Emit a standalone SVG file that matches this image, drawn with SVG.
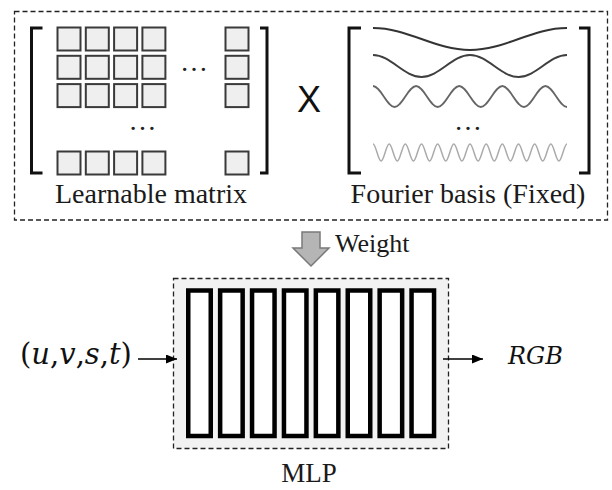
<svg xmlns="http://www.w3.org/2000/svg" width="612" height="490" viewBox="0 0 612 490">
<style>
  .dash { fill: none; stroke: #222; stroke-width: 1.3; stroke-dasharray: 5 3; }
  .cell { fill: #efefef; stroke: #3a3a3a; stroke-width: 2; }
  .brk { fill: none; stroke: #111; stroke-width: 3; }
  .lbl { font-family: "Liberation Serif", "Times New Roman", serif; font-size: 28px; fill: #1a1a1a; }
  .dots { font-family: "Liberation Serif", "Times New Roman", serif; font-size: 28px; fill: #222; }
  .math { font-family: "DejaVu Serif", "Liberation Serif", serif; font-size: 29px; fill: #111; }
  .bar { fill: #fff; stroke: #000; stroke-width: 4.5; }
  .wire { stroke: #000; stroke-width: 1.5; fill: none; }
  .wave { fill: none; }
</style>
<defs>
  <marker id="ah" markerUnits="userSpaceOnUse" markerWidth="11" markerHeight="9" refX="11" refY="4.5" orient="auto">
    <path d="M0,0 L11,4.5 L0,9 Z" fill="#000"/>
  </marker>
</defs>

<g id="basis-panel">
  <rect class="dash" x="14.5" y="11.5" width="593" height="208.5"/>
</g>

<g id="learnable-matrix">
  <path class="brk" d="M42.5,28 H31.5 V173 H42.5"/>
  <path class="brk" d="M260,28 H267 V173 H260"/>
  <rect class="cell" x="57.5" y="27.5" width="23" height="23"/>
  <rect class="cell" x="85.8" y="27.5" width="23" height="23"/>
  <rect class="cell" x="114.1" y="27.5" width="23" height="23"/>
  <rect class="cell" x="142.4" y="27.5" width="23" height="23"/>
  <rect class="cell" x="225.5" y="27.5" width="23" height="23"/>
  <rect class="cell" x="57.5" y="55.8" width="23" height="23"/>
  <rect class="cell" x="85.8" y="55.8" width="23" height="23"/>
  <rect class="cell" x="114.1" y="55.8" width="23" height="23"/>
  <rect class="cell" x="142.4" y="55.8" width="23" height="23"/>
  <rect class="cell" x="225.5" y="55.8" width="23" height="23"/>
  <rect class="cell" x="57.5" y="84.1" width="23" height="23"/>
  <rect class="cell" x="85.8" y="84.1" width="23" height="23"/>
  <rect class="cell" x="114.1" y="84.1" width="23" height="23"/>
  <rect class="cell" x="142.4" y="84.1" width="23" height="23"/>
  <rect class="cell" x="225.5" y="84.1" width="23" height="23"/>
  <rect class="cell" x="57.5" y="151.5" width="23" height="23"/>
  <rect class="cell" x="85.8" y="151.5" width="23" height="23"/>
  <rect class="cell" x="114.1" y="151.5" width="23" height="23"/>
  <rect class="cell" x="142.4" y="151.5" width="23" height="23"/>
  <rect class="cell" x="225.5" y="151.5" width="23" height="23"/>
  <text class="dots" x="194" y="71" text-anchor="middle">…</text>
  <text class="dots" x="142.5" y="130" text-anchor="middle">…</text>
  <text class="lbl" x="151" y="203" text-anchor="middle">Learnable matrix</text>
</g>

<g id="times">
  <text x="309" y="112" text-anchor="middle" font-family="Liberation Sans, Arial, sans-serif" font-size="36" fill="#111">X</text>
</g>

<g id="fourier-basis">
  <path class="brk" d="M361,28 H349 V173 H361"/>
  <path class="brk" d="M579,28 H589 V173 H579"/>
  <path class="wave" stroke="#333" stroke-width="2" d="M373,28 C408.3,28 434.7,50 470,50 S531.7,28 567,28"/>
  <path class="wave" stroke="#3f3f3f" stroke-width="2" d="M373,55 C390.65,55 403.85,77 421.5,77 S452.35,55 470,55 S500.85,77 518.5,77 S549.35,55 567,55"/>
  <path class="wave" stroke="#666" stroke-width="1.8" d="M373,86 C380.85,86 386.71,107 394.56,107 S408.26,86 416.11,86 S429.82,107 437.67,107 S451.37,86 459.22,86 S472.93,107 480.78,107 S494.48,86 502.33,86 S516.04,107 523.89,107 S537.59,86 545.44,86 S559.15,107 567,107"/>
  <path class="wave" stroke="#aaa" stroke-width="1.5" d="M373,144 C375.94,144 378.14,161 381.08,161 S386.23,144 389.17,144 S394.31,161 397.25,161 S402.39,144 405.33,144 S410.48,161 413.42,161 S418.56,144 421.5,144 S426.64,161 429.58,161 S434.73,144 437.67,144 S442.81,161 445.75,161 S450.89,144 453.83,144 S458.98,161 461.92,161 S467.06,144 470,144 S475.14,161 478.08,161 S483.23,144 486.17,144 S491.31,161 494.25,161 S499.39,144 502.33,144 S507.48,161 510.42,161 S515.56,144 518.5,144 S523.64,161 526.58,161 S531.73,144 534.67,144 S539.81,161 542.75,161 S547.89,144 550.83,144 S555.98,161 558.92,161 S564.06,144 567,144"/>
  <text class="dots" x="468" y="130" text-anchor="middle">…</text>
  <text class="lbl" x="468" y="203" text-anchor="middle">Fourier basis (Fixed)</text>
</g>

<g id="mlp">
  <rect x="173.5" y="278.5" width="275" height="170" fill="#f2f2f2" stroke="#222" stroke-width="1.3" stroke-dasharray="5 3"/>
  <rect class="bar" x="188.25" y="290.5" width="22.5" height="145.5"/>
  <rect class="bar" x="220.15" y="290.5" width="22.5" height="145.5"/>
  <rect class="bar" x="252.05" y="290.5" width="22.5" height="145.5"/>
  <rect class="bar" x="283.95" y="290.5" width="22.5" height="145.5"/>
  <rect class="bar" x="315.85" y="290.5" width="22.5" height="145.5"/>
  <rect class="bar" x="347.75" y="290.5" width="22.5" height="145.5"/>
  <rect class="bar" x="379.65" y="290.5" width="22.5" height="145.5"/>
  <rect class="bar" x="411.55" y="290.5" width="22.5" height="145.5"/>
  <text class="lbl" x="309" y="482" text-anchor="middle" style="font-size:27px">MLP</text>
</g>

<g id="input">
  <text class="math" x="20" y="364">(<tspan font-style="italic">u</tspan>,<tspan font-style="italic">v</tspan>,<tspan font-style="italic">s</tspan>,<tspan font-style="italic">t</tspan>)</text>
</g>

<g id="output">
  <text class="math" x="508" y="364" font-style="italic" style="font-size:24px">RGB</text>
</g>

<g id="weight-label">
  <text class="lbl" x="335" y="252" style="font-size:26px">Weight</text>
</g>

<g id="connectors">
  <polygon points="302,232 320,232 320,248 329,248 311,266 293,248 302,248" fill="#b5b5b5" stroke="#7a7a7a" stroke-width="1.5" stroke-linejoin="miter"/>
  <line class="wire" x1="138" y1="359" x2="177" y2="359" marker-end="url(#ah)"/>
  <line class="wire" x1="443" y1="359" x2="483" y2="359" marker-end="url(#ah)"/>
</g>
</svg>
